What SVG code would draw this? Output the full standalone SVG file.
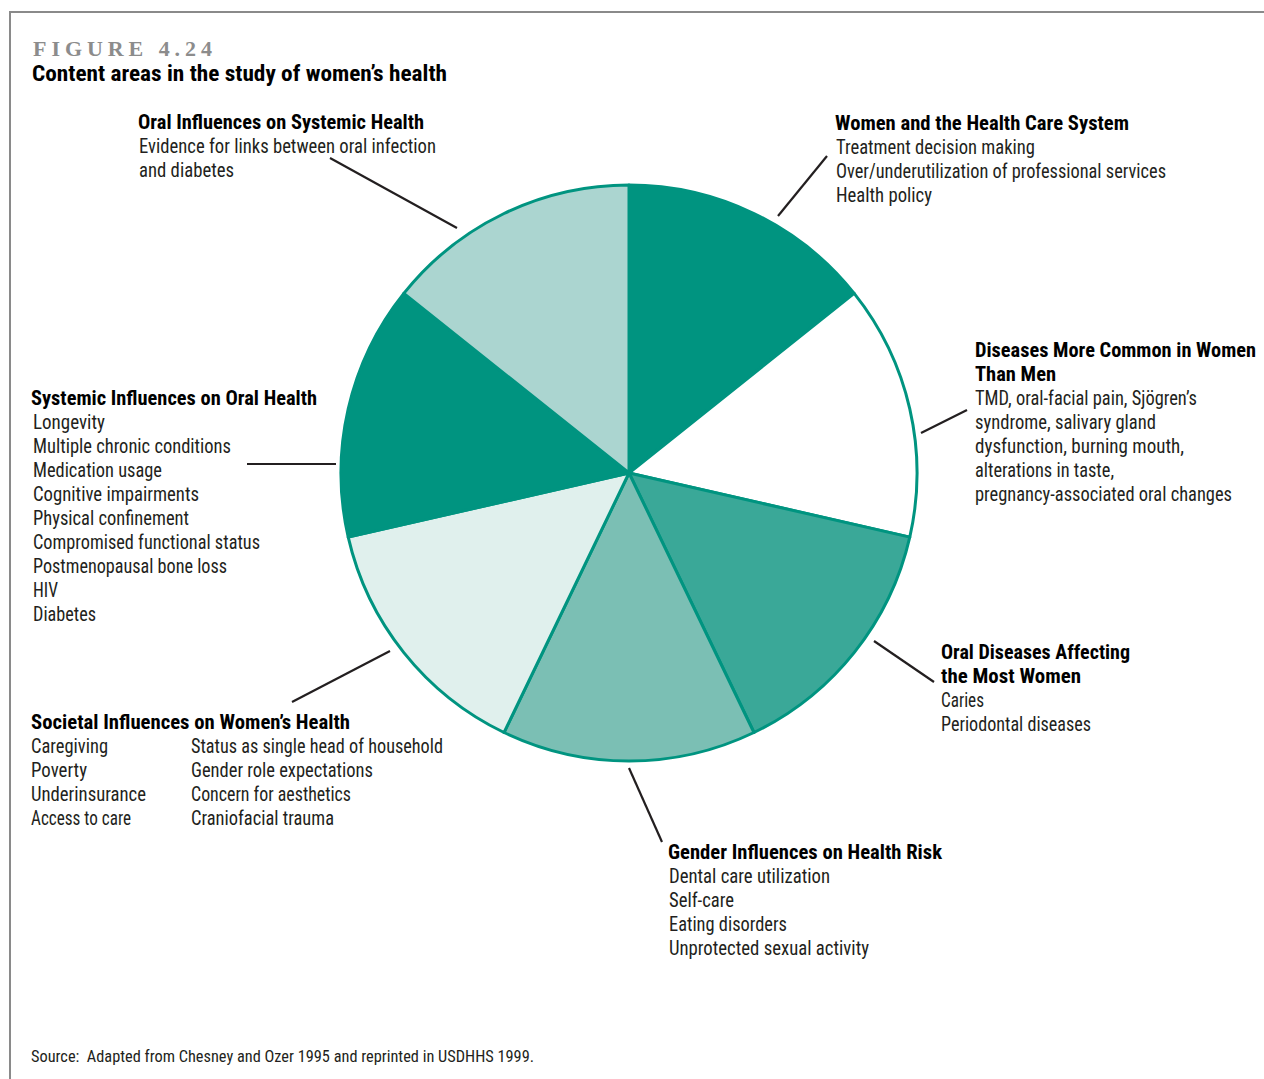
<svg xmlns="http://www.w3.org/2000/svg" width="1264" height="1079" viewBox="0 0 1264 1079">
<style>
text{font-family:"Liberation Sans Narrow","Roboto Condensed","DejaVu Sans Condensed","Liberation Sans",sans-serif;font-size:21px;fill:#231f20}
.h{font-weight:bold;fill:#000}
.slice{stroke:#009480;stroke-width:3;stroke-linejoin:round}
.conn line{stroke:#231f20;stroke-width:2.2}
</style>
<rect width="1264" height="1079" fill="#fff"/>
<path d="M10,1079 V12 H1264" fill="none" stroke="#8a8a8a" stroke-width="2"/>
<g id="title">
<text x="33" y="56" style="font-family:'Liberation Serif',serif;font-weight:bold;font-size:22px;fill:#8c8c8c" textLength="179" lengthAdjust="spacing">FIGURE 4.24</text>
<text class="h" x="32" y="81" style="font-size:22px" textLength="415" lengthAdjust="spacingAndGlyphs">Content areas in the study of women’s health</text>
</g>
<g id="pie">
<path class="slice" fill="#009480" d="M629,473 L629,185 A288,288 0 0 1 854.17,293.43 Z"/>
<path class="slice" fill="#ffffff" d="M629,473 L854.17,293.43 A288,288 0 0 1 909.78,537.09 Z"/>
<path class="slice" fill="#3aa898" d="M629,473 L909.78,537.09 A288,288 0 0 1 753.96,732.48 Z"/>
<path class="slice" fill="#7bbfb4" d="M629,473 L753.96,732.48 A288,288 0 0 1 504.04,732.48 Z"/>
<path class="slice" fill="#e0f0ed" d="M629,473 L504.04,732.48 A288,288 0 0 1 348.22,537.09 Z"/>
<path class="slice" fill="#009480" d="M629,473 L348.22,537.09 A288,288 0 0 1 403.83,293.43 Z"/>
<path class="slice" fill="#abd5d0" d="M629,473 L403.83,293.43 A288,288 0 0 1 629,185 Z"/>
</g>
<g id="connectors" class="conn">
<line x1="330" y1="158" x2="457" y2="228"/>
<line x1="778" y1="216" x2="827" y2="156"/>
<line x1="921" y1="433" x2="967" y2="410"/>
<line x1="247" y1="464" x2="336" y2="464"/>
<line x1="874" y1="641" x2="934" y2="682"/>
<line x1="629" y1="768" x2="662" y2="842"/>
<line x1="292" y1="702" x2="390" y2="651"/>
</g>
<g id="oral-influences">
<text class="h" x="138" y="129" textLength="286" lengthAdjust="spacingAndGlyphs">Oral Influences on Systemic Health</text>
<text x="139" y="153" textLength="297" lengthAdjust="spacingAndGlyphs">Evidence for links between oral infection</text>
<text x="139" y="177" textLength="95" lengthAdjust="spacingAndGlyphs">and diabetes</text>
</g>
<g id="health-care-system">
<text class="h" x="835" y="130" textLength="294" lengthAdjust="spacingAndGlyphs">Women and the Health Care System</text>
<text x="836" y="154" textLength="199" lengthAdjust="spacingAndGlyphs">Treatment decision making</text>
<text x="836" y="178" textLength="330" lengthAdjust="spacingAndGlyphs">Over/underutilization of professional services</text>
<text x="836" y="202" textLength="96" lengthAdjust="spacingAndGlyphs">Health policy</text>
</g>
<g id="diseases-common">
<text class="h" x="975" y="357" textLength="281" lengthAdjust="spacingAndGlyphs">Diseases More Common in Women</text>
<text class="h" x="975" y="381" textLength="81" lengthAdjust="spacingAndGlyphs">Than Men</text>
<text x="975" y="405" textLength="222" lengthAdjust="spacingAndGlyphs">TMD, oral-facial pain, Sjögren’s</text>
<text x="975" y="429" textLength="181" lengthAdjust="spacingAndGlyphs">syndrome, salivary gland</text>
<text x="975" y="453" textLength="209" lengthAdjust="spacingAndGlyphs">dysfunction, burning mouth,</text>
<text x="975" y="477" textLength="139" lengthAdjust="spacingAndGlyphs">alterations in taste,</text>
<text x="975" y="501" style="font-size:20px" textLength="257" lengthAdjust="spacingAndGlyphs">pregnancy-associated oral changes</text>
</g>
<g id="systemic-influences">
<text class="h" x="31" y="405" textLength="286" lengthAdjust="spacingAndGlyphs">Systemic Influences on Oral Health</text>
<text x="33" y="429" textLength="72" lengthAdjust="spacingAndGlyphs">Longevity</text>
<text x="33" y="453" textLength="198" lengthAdjust="spacingAndGlyphs">Multiple chronic conditions</text>
<text x="33" y="477" textLength="129" lengthAdjust="spacingAndGlyphs">Medication usage</text>
<text x="33" y="501" textLength="166" lengthAdjust="spacingAndGlyphs">Cognitive impairments</text>
<text x="33" y="525" textLength="156" lengthAdjust="spacingAndGlyphs">Physical confinement</text>
<text x="33" y="549" textLength="227" lengthAdjust="spacingAndGlyphs">Compromised functional status</text>
<text x="33" y="573" textLength="194" lengthAdjust="spacingAndGlyphs">Postmenopausal bone loss</text>
<text x="33" y="597" textLength="25" lengthAdjust="spacingAndGlyphs">HIV</text>
<text x="33" y="621" textLength="63" lengthAdjust="spacingAndGlyphs">Diabetes</text>
</g>
<g id="oral-diseases">
<text class="h" x="941" y="659" textLength="189" lengthAdjust="spacingAndGlyphs">Oral Diseases Affecting</text>
<text class="h" x="941" y="683" textLength="140" lengthAdjust="spacingAndGlyphs">the Most Women</text>
<text x="941" y="707" textLength="43" lengthAdjust="spacingAndGlyphs">Caries</text>
<text x="941" y="731" textLength="150" lengthAdjust="spacingAndGlyphs">Periodontal diseases</text>
</g>
<g id="gender-influences">
<text class="h" x="668" y="859" textLength="274" lengthAdjust="spacingAndGlyphs">Gender Influences on Health Risk</text>
<text x="669" y="883" textLength="161" lengthAdjust="spacingAndGlyphs">Dental care utilization</text>
<text x="669" y="907" textLength="65" lengthAdjust="spacingAndGlyphs">Self-care</text>
<text x="669" y="931" textLength="118" lengthAdjust="spacingAndGlyphs">Eating disorders</text>
<text x="669" y="955" textLength="200" lengthAdjust="spacingAndGlyphs">Unprotected sexual activity</text>
</g>
<g id="societal-influences">
<text class="h" x="31" y="729" textLength="319" lengthAdjust="spacingAndGlyphs">Societal Influences on Women’s Health</text>
<text x="31" y="753" textLength="77" lengthAdjust="spacingAndGlyphs">Caregiving</text>
<text x="31" y="777" textLength="56" lengthAdjust="spacingAndGlyphs">Poverty</text>
<text x="31" y="801" textLength="115" lengthAdjust="spacingAndGlyphs">Underinsurance</text>
<text x="31" y="825" textLength="100" lengthAdjust="spacingAndGlyphs">Access to care</text>
<text x="191" y="753" textLength="252" lengthAdjust="spacingAndGlyphs">Status as single head of household</text>
<text x="191" y="777" textLength="182" lengthAdjust="spacingAndGlyphs">Gender role expectations</text>
<text x="191" y="801" textLength="160" lengthAdjust="spacingAndGlyphs">Concern for aesthetics</text>
<text x="191" y="825" textLength="143" lengthAdjust="spacingAndGlyphs">Craniofacial trauma</text>
</g>
<g id="source">
<text x="31" y="1062" style="font-size:17px" textLength="503" lengthAdjust="spacingAndGlyphs">Source:&#160; Adapted from Chesney and Ozer 1995 and reprinted in USDHHS 1999.</text>
</g>
</svg>
